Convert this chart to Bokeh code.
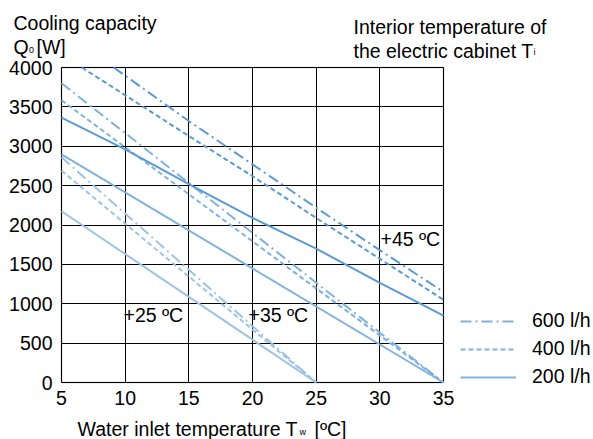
from bokeh.plotting import figure
from bokeh.models import (Range1d, Label, Legend, LegendItem, FixedTicker,
                          LinearAxis, Grid, BoxAnnotation)
from bokeh.embed import file_html
from bokeh.resources import INLINE

# ---------------- data ----------------
x_ticks = [5, 10, 15, 20, 25, 30, 35]
y_ticks = [0, 500, 1000, 1500, 2000, 2500, 3000, 3500, 4000]

# interior temperature +45 C
t45_600_x = [9.1, 15, 20, 25, 30, 35]
t45_600_q = [4000, 3320, 2770, 2220, 1680, 1150]
t45_400_x = [6.6, 15, 20, 25, 30, 35]
t45_400_q = [4000, 3130, 2620, 2090, 1570, 1050]
t45_200_x = [5, 10, 15, 20, 25, 30, 35]
t45_200_q = [3364, 2960, 2520, 2090, 1700, 1265, 849]

# interior temperature +35 C
t35_x = [5, 35]
t35_600_q = [3800, 0]
t35_400_q = [3585, 0]
t35_200_q = [2897, 0]

# interior temperature +25 C
t25_x = [5, 25]
t25_600_q = [2860, 0]
t25_400_q = [2690, 0]
t25_200_q = [2175, 0]

flow_labels = ["600 l/h", "400 l/h", "200 l/h"]
temp_labels = ["+25 \u00baC", "+35 \u00baC", "+45 \u00baC"]

# ---------------- styling ----------------
FONT = "Liberation Sans"
FS = "19.5px"
C45 = "#5b9bd5"
C35 = "#80b2de"
C25 = "#9dc3e6"
DASHDOT = "11 4 2 4"
DASHED = "5 3"

W, H = 593, 439
FL, FT, FW, FH = 61, 67, 382, 315  # plot area in canvas pixels
XMIN, XMAX, YMIN, YMAX = 5, 35, 0, 4000
KX = FW / (XMAX - XMIN)
KY = FH / (YMAX - YMIN)
BASE_SHIFT = 7  # label anchor vs. visual baseline


def dx(px):
    return XMIN + (px - FL) / KX


def dy(py):
    return YMIN + (FT + FH - py) / KY


p = figure(width=W, height=H,
           x_range=Range1d(dx(0), dx(W)), y_range=Range1d(dy(H), dy(0)),
           output_backend="svg", toolbar_location=None,
           x_axis_location=None, y_axis_location=None, min_border=0)
p.outline_line_color = None
p.background_fill_color = "white"
p.border_fill_color = "white"
for g in p.grid:
    g.visible = False

# axes anchored at the plot-area edges
xaxis = LinearAxis(fixed_location=YMIN, ticker=FixedTicker(ticks=x_ticks))
yaxis = LinearAxis(fixed_location=XMIN, ticker=FixedTicker(ticks=y_ticks))
for ax in (xaxis, yaxis):
    ax.axis_line_color = None
    ax.major_tick_line_color = None
    ax.minor_tick_line_color = None
    ax.major_tick_out = 0
    ax.major_tick_in = 0
    ax.major_label_text_font = FONT
    ax.major_label_text_font_size = FS
    ax.major_label_text_color = "black"
yaxis.major_label_standoff = 9
xaxis.major_label_standoff = 8
p.add_layout(xaxis, "below")
p.add_layout(yaxis, "left")

# grid
if "cross_bounds" in Grid.properties():
    p.add_layout(Grid(dimension=0, ticker=FixedTicker(ticks=x_ticks),
                      cross_bounds=(YMIN, YMAX), grid_line_color="black",
                      grid_line_width=1))
    p.add_layout(Grid(dimension=1, ticker=FixedTicker(ticks=y_ticks),
                      cross_bounds=(XMIN, XMAX), grid_line_color="black",
                      grid_line_width=1))
else:
    p.segment(x0=x_ticks, y0=[YMIN] * len(x_ticks), x1=x_ticks,
              y1=[YMAX] * len(x_ticks), color="black", line_width=1)
    p.segment(x0=[XMIN] * len(y_ticks), y0=y_ticks, x1=[XMAX] * len(y_ticks),
              y1=y_ticks, color="black", line_width=1)

# plot-area border
p.add_layout(BoxAnnotation(left=XMIN, right=XMAX, bottom=YMIN, top=YMAX,
                           fill_alpha=0, line_color="black", line_width=1.5,
                           level="underlay"))

# ---------------- lines ----------------
r25_600 = p.line(t25_x, t25_600_q, color=C25, line_width=2, line_dash=DASHDOT)
r25_400 = p.line(t25_x, t25_400_q, color=C25, line_width=2, line_dash=DASHED)
r25_200 = p.line(t25_x, t25_200_q, color=C25, line_width=2)

r35_600 = p.line(t35_x, t35_600_q, color=C35, line_width=2, line_dash=DASHDOT)
r35_400 = p.line(t35_x, t35_400_q, color=C35, line_width=2, line_dash=DASHED)
r35_200 = p.line(t35_x, t35_200_q, color=C35, line_width=2)

r45_600 = p.line(t45_600_x, t45_600_q, color=C45, line_width=2, line_dash=DASHDOT)
r45_400 = p.line(t45_400_x, t45_400_q, color=C45, line_width=2, line_dash=DASHED)
r45_200 = p.line(t45_200_x, t45_200_q, color=C45, line_width=2)


# ---------------- texts ----------------
def lab(text, px, py, size=FS):
    p.add_layout(Label(x=dx(px), y=dy(py - BASE_SHIFT), text=text,
                       text_font=FONT, text_font_size=size,
                       text_color="black", text_baseline="alphabetic",
                       text_align="left"))


lab(temp_labels[0], 123, 321.5)
lab(temp_labels[1], 248, 321.5)
lab(temp_labels[2], 380, 245)

lab("Cooling capacity", 13, 29)
lab("Q", 13, 53)
lab("0", 28.5, 56, "9px")
lab("[W]", 36, 53)

lab("Interior temperature of", 353, 33)
lab("the electric cabinet T", 353, 57)
lab("i", 533, 58, "9px")

lab("Water inlet temperature T", 77, 435)
lab("w", 299, 438, "9px")
lab("[\u00baC]", 314, 435)

# ---------------- legend ----------------
legend = Legend(items=[LegendItem(label=flow_labels[0], renderers=[r35_600]),
                       LegendItem(label=flow_labels[1], renderers=[r35_400]),
                       LegendItem(label=flow_labels[2], renderers=[r35_200])],
                location=(460, H - 388), orientation="vertical",
                margin=0, padding=0, spacing=5,
                glyph_width=56, glyph_height=20, label_height=20,
                label_standoff=16, label_text_font=FONT,
                label_text_font_size=FS, label_text_color="black",
                border_line_color=None, background_fill_alpha=0)
p.add_layout(legend)

open("out.html", "w").write(file_html(p, INLINE))
